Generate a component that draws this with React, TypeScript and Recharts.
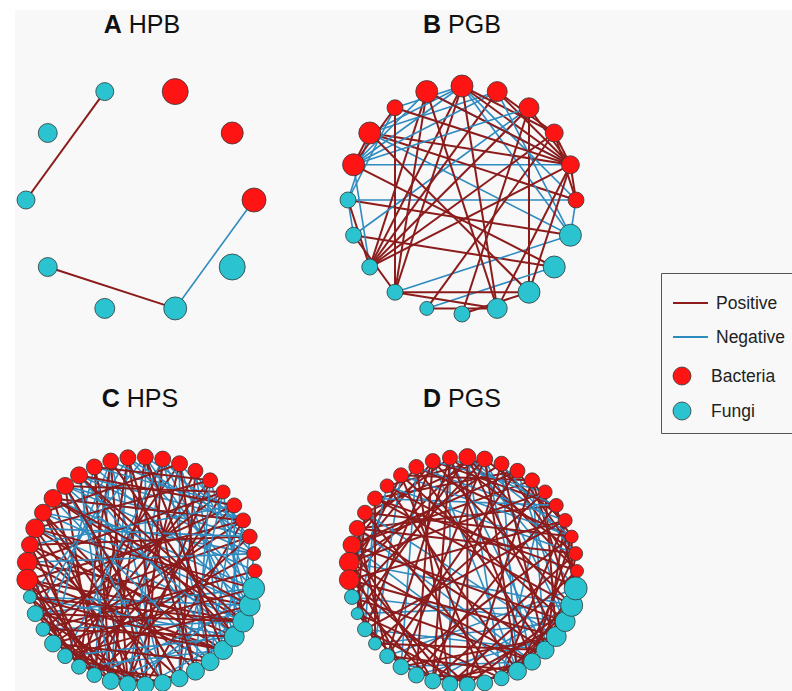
import React from 'react';
import { ScatterChart, Scatter, XAxis, YAxis } from 'recharts';

// ---------- styling constants ----------
const POS_COLOR = '#8C1C1C';
const NEG_COLOR = '#2E8BC0';
const BAC_COLOR = '#FF1414';
const FUN_COLOR = '#2BC3CF';
const NODE_STROKE = '#2f3a3a';
const FONT = '"Liberation Sans", Arial, Helvetica, sans-serif';

// ---------- data: A HPB ----------
const hpbBacteria = 3;
const hpbSizes = [12, 11, 13, 9, 9.5, 9, 9.5, 10, 11.5, 13];
const hpbPositive: number[][] = [[5, 3], [6, 8]];
const hpbNegative: number[][] = [[0, 8]];

// ---------- data: B PGB ----------
const pgbBacteria = 10;
const pgbSizes = [8, 9, 9, 10, 10, 11, 11, 8, 11, 11, 8, 8, 8, 8, 7, 8, 10, 11, 11, 11];
const pgbNegative: number[][] = [
  [9, 1], [10, 0], [8, 19], [5, 19], [13, 19], [14, 18], [11, 3], [12, 9], [11, 10], [10, 8],
  [9, 6], [9, 5], [9, 4], [8, 5], [8, 4], [7, 5], [6, 1], [5, 0], [4, 19], [19, 0], [9, 3], [10, 7],
];
const pgbPositive: number[][] = [
  [10, 19], [8, 0], [8, 1], [11, 18], [3, 17], [12, 6], [12, 5], [12, 4], [12, 3], [12, 2],
  [13, 6], [13, 5], [13, 16], [13, 17], [14, 16], [15, 17], [5, 1], [5, 2], [6, 1], [4, 1],
  [4, 2], [3, 1], [2, 1], [7, 1], [8, 17], [6, 16], [5, 16], [16, 1], [12, 1], [14, 2],
  [15, 3], [9, 18], [7, 9], [8, 9], [2, 0], [1, 0], [17, 1], [11, 13], [13, 7], [10, 12],
];

// ---------- data: C HPS ----------
const hpsBacteria = 22;
const hpsSizes = [
  7, 7, 7.5, 7.5, 7.5, 7, 7.5, 7.5, 8, 8, 8, 8, 8, 8, 8.5, 8.5, 9, 8.5, 9.5, 8.5, 10, 10.5,
  6.5, 8, 7, 8.5, 7.5, 7.5, 7.5, 8.5, 8.5, 8.5, 8.5, 8.5, 9, 9, 9.5, 10, 10.5, 10.5, 11,
];
const hpsPositive: number[][] = [
  [21, 36], [21, 38], [20, 35], [20, 39], [19, 33], [19, 37], [18, 31], [18, 36], [17, 30], [17, 34],
  [16, 29], [16, 38], [15, 28], [15, 33], [14, 30], [14, 37], [13, 29], [13, 31], [12, 30], [12, 27],
  [11, 32], [11, 28], [10, 29], [10, 34], [9, 31], [9, 27], [8, 30], [8, 25], [7, 28], [7, 33],
  [6, 26], [6, 30], [5, 29], [5, 24], [4, 27], [4, 22], [3, 25], [3, 31], [2, 23], [2, 28],
  [1, 26], [0, 24], [21, 3], [20, 5], [19, 2], [18, 6], [17, 8], [16, 3], [15, 5], [14, 4],
  [13, 6], [21, 29], [20, 28], [22, 30], [22, 36], [23, 31], [23, 38], [24, 29], [24, 37], [25, 31],
  [25, 35], [26, 32], [27, 33], [22, 27], [23, 28], [24, 30], [21, 27], [20, 26], [19, 28], [18, 27],
  [22, 38], [23, 36], [26, 39], [25, 40], [36, 10], [37, 12], [38, 14], [39, 16], [40, 18], [35, 8],
  [34, 11], [33, 15], [32, 17],
];
const hpsNegative: number[][] = [
  [7, 36], [8, 37], [9, 38], [10, 39], [11, 40], [12, 37], [13, 39], [9, 35], [10, 36], [11, 34],
  [8, 33], [12, 32], [13, 31], [10, 31], [9, 30], [11, 29], [12, 28], [14, 1], [15, 2], [16, 3],
  [17, 1], [14, 3], [15, 0], [16, 40], [17, 39], [18, 38], [22, 39], [23, 40], [24, 38], [22, 37],
  [13, 4], [12, 3], [11, 2], [10, 3], [9, 1], [8, 2], [7, 40], [6, 39], [5, 38], [4, 37],
  [14, 36], [15, 37], [16, 35], [13, 25], [12, 24], [11, 23], [10, 22], [9, 26], [14, 29], [15, 32],
  [6, 34], [5, 33], [4, 35], [3, 36], [2, 38], [1, 39], [28, 39], [29, 38], [27, 36], [26, 37],
  [30, 40], [31, 37], [20, 1], [19, 4], [18, 2],
];

// ---------- data: D PGS ----------
const pgsBacteria = 22;
const pgsSizes = [
  6.5, 7, 6.5, 7, 7, 7, 7.5, 7.5, 7.5, 8, 8.5, 7.5, 7.5, 7.5, 7.5, 7, 7.5, 7.5, 8, 9, 10, 10,
  7.5, 6, 7.5, 6.5, 7.5, 8, 8, 8, 8, 8, 8, 7.5, 9, 8.5, 9, 10, 10, 11, 11.5,
];
const pgsPositive: number[][] = [
  [21, 14], [21, 10], [20, 12], [20, 8], [19, 13], [19, 6], [18, 11], [18, 4], [17, 9], [16, 7],
  [15, 9], [14, 6], [13, 2], [12, 4], [11, 1], [10, 0], [9, 3], [8, 0], [7, 1], [6, 2],
  [0, 37], [1, 38], [2, 39], [3, 36], [4, 40], [5, 37], [6, 39], [1, 34], [2, 35], [3, 33],
  [22, 35], [23, 33], [24, 31], [25, 36], [26, 34], [27, 37], [28, 33], [29, 35], [30, 38], [31, 39],
  [32, 37], [33, 39], [34, 40], [22, 29], [23, 27], [24, 28], [21, 25], [20, 27], [19, 24], [18, 26],
  [17, 23], [16, 25], [21, 31], [20, 30], [19, 29], [21, 37], [20, 35], [19, 38], [18, 36], [17, 33],
  [16, 39], [15, 34], [14, 32], [13, 30], [12, 28], [11, 29], [10, 31], [9, 27], [8, 29], [7, 26],
  [6, 31], [5, 25], [4, 28], [3, 24], [2, 27], [1, 29], [0, 30], [14, 38], [13, 36], [12, 39],
  [11, 35], [10, 37], [9, 34], [8, 36], [15, 40], [16, 0], [17, 2], [18, 1], [21, 3], [20, 5],
  [19, 7], [11, 26], [12, 24], [10, 23], [9, 22],
];
const pgsNegative: number[][] = [
  [10, 33], [11, 36], [9, 38], [12, 34], [10, 40], [9, 35], [11, 30], [8, 34], [7, 38], [6, 36],
  [5, 33], [13, 27], [14, 25], [15, 23], [16, 24], [17, 22], [22, 38], [23, 39], [24, 36], [25, 38],
  [26, 40], [27, 35], [28, 37], [29, 39], [12, 5], [13, 3], [14, 2], [8, 1], [15, 1], [16, 4],
  [17, 37], [18, 35], [19, 34], [20, 39], [11, 4], [10, 2],
];

// ---------- titles ----------
const panelLetters = ['A', 'B', 'C', 'D'];
const panelNames = ['HPB', 'PGB', 'HPS', 'PGS'];
const legendEdgeLabels = ['Positive', 'Negative'];
const legendNodeLabels = ['Bacteria', 'Fungi'];

// ---------- layout helpers ----------
const CHART = 320;
const RADIUS_PX = 114;
const DOM = CHART / 2 / RADIUS_PX;

type Node = { x: number; y: number; s: number; kind: 'B' | 'F' };

function circleLayout(sizes: number[], nBac: number): Node[] {
  const n = sizes.length;
  return sizes.map((s, i) => {
    const a = (2 * Math.PI * i) / n;
    return { x: Math.cos(a), y: Math.sin(a), s, kind: i < nBac ? 'B' : 'F' };
  });
}

const NoShape = () => <g />;

const NodeShape = (props: any) => {
  const { cx, cy, payload } = props;
  if (cx == null || cy == null) return <g />;
  return (
    <circle
      cx={cx}
      cy={cy}
      r={payload.s}
      fill={payload.kind === 'B' ? BAC_COLOR : FUN_COLOR}
      stroke={NODE_STROKE}
      strokeWidth={0.8}
    />
  );
};

function interleave(a: number[][], b: number[][]) {
  const out: { e: number[]; pos: boolean }[] = [];
  const m = Math.max(a.length, b.length);
  for (let i = 0; i < m; i++) {
    if (i < b.length) out.push({ e: b[i], pos: false });
    if (i < a.length) out.push({ e: a[i], pos: true });
  }
  return out;
}

function Network({
  sizes,
  nBac,
  pos,
  neg,
  left,
  top,
}: {
  sizes: number[];
  nBac: number;
  pos: number[][];
  neg: number[][];
  left: number;
  top: number;
}) {
  const nodes = circleLayout(sizes, nBac);
  const edges = interleave(pos, neg);
  return (
    <div style={{ position: 'absolute', left, top, width: CHART, height: CHART }}>
      <ScatterChart width={CHART} height={CHART} margin={{ top: 0, right: 0, bottom: 0, left: 0 }}>
        <XAxis type="number" dataKey="x" domain={[-DOM, DOM]} hide allowDataOverflow />
        <YAxis type="number" dataKey="y" domain={[-DOM, DOM]} hide allowDataOverflow />
        {edges.map((ed, k) => (
          <Scatter
            key={'e' + k}
            data={[nodes[ed.e[0]], nodes[ed.e[1]]]}
            line={{ stroke: ed.pos ? POS_COLOR : NEG_COLOR, strokeWidth: ed.pos ? 2 : 1.6 }}
            shape={NoShape}
            isAnimationActive={false}
          />
        ))}
        <Scatter data={nodes} shape={NodeShape} isAnimationActive={false} />
      </ScatterChart>
    </div>
  );
}

const titlePos = [
  { x: 142, y: 33 },
  { x: 462, y: 33 },
  { x: 140, y: 407 },
  { x: 462, y: 407 },
];

export default function App() {
  return (
    <div
      style={{
        position: 'absolute',
        left: 0,
        top: 0,
        width: 792,
        height: 691,
        overflow: 'hidden',
        background: '#ffffff',
        fontFamily: FONT,
      }}
    >
      <div style={{ position: 'absolute', left: 15, top: 10, width: 777, height: 681, background: '#f8f8f8' }} />
      <Network sizes={hpbSizes} nBac={hpbBacteria} pos={hpbPositive} neg={hpbNegative} left={-20} top={40} />
      <Network sizes={pgbSizes} nBac={pgbBacteria} pos={pgbPositive} neg={pgbNegative} left={302} top={40} />
      <Network sizes={hpsSizes} nBac={hpsBacteria} pos={hpsPositive} neg={hpsNegative} left={-19} top={411} />
      <Network sizes={pgsSizes} nBac={pgsBacteria} pos={pgsPositive} neg={pgsNegative} left={303} top={411} />
      <svg width={792} height={691} style={{ position: 'absolute', left: 0, top: 0 }}>
        {titlePos.map((p, i) => (
          <text key={i} x={p.x} y={p.y} textAnchor="middle" fontFamily={FONT} fontSize={25} fill="#111">
            <tspan fontWeight="bold">{panelLetters[i]}</tspan>
            <tspan> {panelNames[i]}</tspan>
          </text>
        ))}
        <path d="M 800 273.5 L 661.5 273.5 L 661.5 433.5 L 800 433.5" fill="none" stroke="#555" strokeWidth={1} />
        {legendEdgeLabels.map((lab, i) => (
          <g key={lab}>
            <line
              x1={673}
              x2={708}
              y1={303 + i * 34}
              y2={303 + i * 34}
              stroke={i === 0 ? POS_COLOR : NEG_COLOR}
              strokeWidth={2}
            />
            <text x={716} y={303 + i * 34 + 6} fontFamily={FONT} fontSize={17.5} fill="#222">
              {lab}
            </text>
          </g>
        ))}
        {legendNodeLabels.map((lab, i) => (
          <g key={lab}>
            <circle
              cx={682}
              cy={376 + i * 35}
              r={9}
              fill={i === 0 ? BAC_COLOR : FUN_COLOR}
              stroke={NODE_STROKE}
              strokeWidth={0.8}
            />
            <text x={711} y={376 + i * 35 + 6} fontFamily={FONT} fontSize={17.5} fill="#222">
              {lab}
            </text>
          </g>
        ))}
      </svg>
    </div>
  );
}
